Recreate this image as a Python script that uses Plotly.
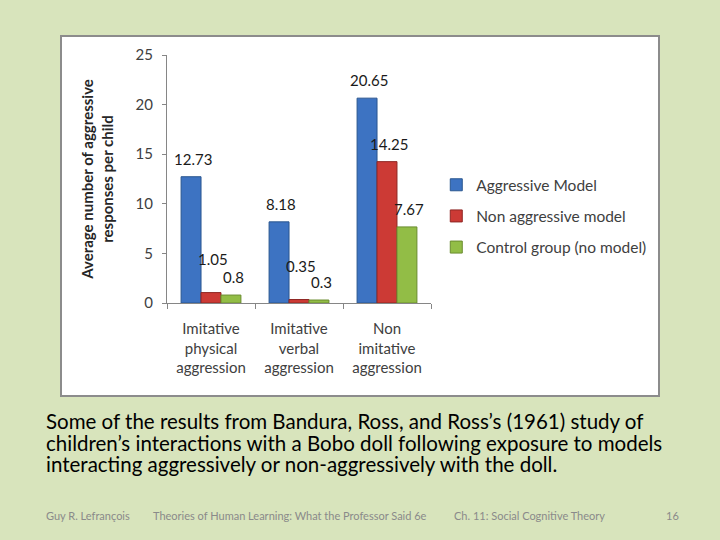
import plotly.graph_objects as go

categories = ["Imitative<br>physical<br>aggression", "Imitative<br>verbal<br>aggression",
              "Non<br>imitative<br>aggression"]
series_names = ["Aggressive Model", "Non aggressive model", "Control group (no model)"]
aggressive = [12.73, 8.18, 20.65]
non_aggressive = [1.05, 0.35, 14.25]
control = [0.8, 0.3, 7.67]
y_ticks = [0, 5, 10, 15, 20, 25]

caption_lines = [
    "Some of the results from Bandura, Ross, and Ross\u2019s (1961) study of",
    "children\u2019s interactions with a Bobo doll following exposure to models",
    "interacting aggressively or non-aggressively with the doll.",
]
footer_items = ["Guy R. Lefran\u00e7ois", "Theories of Human Learning: What the Professor Said 6e",
                "Ch. 11: Social Cognitive Theory", "16"]

colors = ["#3d73c2", "#cc3a35", "#92bd46"]
edges = ["#2a568f", "#8f2623", "#6a8c2f"]
font = "Lato"

fig = go.Figure()
series = [aggressive, non_aggressive, control]
for i, (name, vals) in enumerate(zip(series_names, series)):
    fig.add_trace(go.Bar(
        x=categories, y=vals, name=name,
        marker=dict(color=colors[i], line=dict(color=edges[i], width=1)),
        legendgroup=name,
    ))

# data labels sit well above the bars (as in the Excel chart); the small red
# labels in the first two groups are lifted further so they don't collide
for i, vals in enumerate(series):
    for j, v in enumerate(vals):
        lift = 34 if (i == 1 and v < 2) else 18
        fig.add_annotation(x=categories[j], y=v, text=f"{v:g}", showarrow=False,
                           xshift=(i - 1) * 20 + 2, yshift=lift, yanchor="middle",
                           font=dict(family=font, size=15, color="#1a1a1a"))

fig.update_layout(
    width=720, height=540,
    margin=dict(l=167, r=289, t=55, b=237),
    paper_bgcolor="#d8e4bc",
    plot_bgcolor="white",
    barmode="group", bargap=0.32, bargroupgap=0,
    font=dict(family=font, size=14, color="#404040"),
    showlegend=True,
    legend=dict(x=1.02, y=0.35, xanchor="left", yanchor="middle",
                font=dict(family=font, size=15.5, color="#404040"),
                tracegroupgap=8, bgcolor="rgba(0,0,0,0)"),
    xaxis=dict(showline=True, linecolor="#868686", ticks="outside", tickson="boundaries",
               ticklen=5, tickcolor="#868686", showgrid=False, ticklabelstandoff=12,
               tickfont=dict(family=font, size=15, color="#404040")),
    yaxis=dict(range=[0, 25], tickvals=y_ticks, showline=True, linecolor="#868686",
               ticks="outside", ticklen=4, tickcolor="#868686", showgrid=False, zeroline=False,
               ticklabelstandoff=6,
               tickfont=dict(family=font, size=15, color="#404040"),
               title=dict(text="<b>Average number of aggressive<br>responses per child</b>",
                          font=dict(family=font, size=15, color="#262626"), standoff=18)),
)

# white chart box behind the plot
fig.add_shape(type="rect", xref="paper", yref="paper", layer="below",
              x0=(61 - 167) / 264, x1=(659 - 167) / 264,
              y0=(303 - 396) / 248, y1=(303 - 36) / 248,
              fillcolor="white", line=dict(color="#8c8c8c", width=2))

for k, line in enumerate(caption_lines):
    fig.add_annotation(text=line, xref="paper", yref="paper",
                       x=(44 - 167) / 264, y=(303 - 421 - 21.5 * k) / 248,
                       xanchor="left", yanchor="middle", showarrow=False,
                       font=dict(family=font, size=20.5, color="#000000"))

footer_x = [44, 151, 452, 664]
for txt, fx in zip(footer_items, footer_x):
    fig.add_annotation(text=txt, xref="paper", yref="paper",
                       x=(fx - 167) / 264, y=(303 - 515) / 248,
                       xanchor="left", yanchor="middle", showarrow=False,
                       font=dict(family=font, size=11, color="#8a8a8a"))

# drop the default body margin so the slide fills the window
fig.write_html("out.html", config={"displayModeBar": False},
               post_script="document.body.style.margin='0';")
